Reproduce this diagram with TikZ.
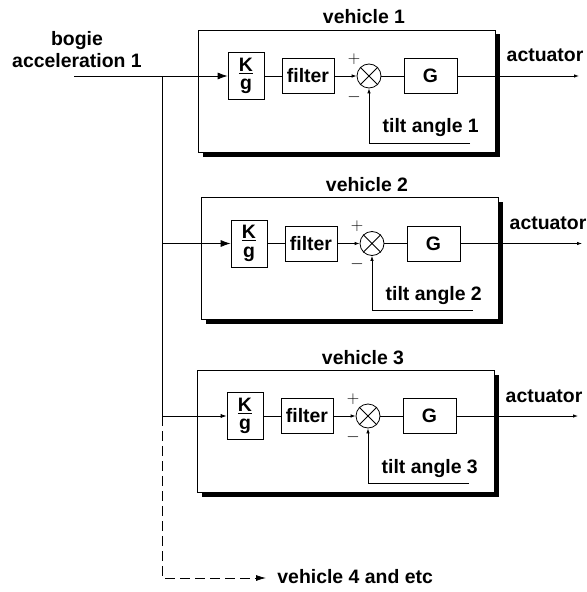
\documentclass[tikz,border=0pt]{standalone}
\usepackage{fontspec}
\setmainfont{Liberation Sans}
\usetikzlibrary{arrows.meta, positioning, shadows}

\begin{document}
\begin{tikzpicture}[x=1bp, y=-1bp, >={Latex[length=5bp,width=3.5bp]},
      line width=0.8bp,
      every node/.style={font=\fontsize{19.5}{22}\selectfont\bfseries},
      block/.style={draw, minimum height=35bp, inner sep=0pt},
      frame/.style={draw, fill=white, minimum width=297bp, minimum height=122bp,
        drop shadow={fill=black, opacity=1, shadow xshift=4.5bp, shadow yshift=-4.5bp}},
      sumnode/.style={circle, draw, minimum size=24bp, inner sep=0pt},
      sign/.style={font=\fontsize{17}{17}\selectfont, inner sep=0pt}]

      \useasboundingbox (0,0) rectangle (587,592);

      \node[align=center, anchor=south] (bogie) at (77,71) {bogie\\acceleration 1};
      \coordinate (in) at (74,76);

      \foreach \n/\x/\y/\ts in {1/198/76/2, 2/201/243.5/2, 3/197/416/1.2} {
          \node[frame] (veh\n) at (\x+148.5,\y+15) {};
          \node[anchor=base] (vname\n) at (\x+166,\y-52) {vehicle \n};
          \node[block, minimum width=36bp, minimum height=47bp, align=center,
            font=\fontsize{19.5}{18.5}\selectfont\bfseries] (kg\n) at (\x+48,\y) {\underline{K}\\g};
          \node[block, minimum width=52bp] (filt\n) at (\x+110,\y) {filter};
          \node[sumnode] (sum\n) at (\x+171,\y) {};
          \draw (sum\n.north west) -- (sum\n.south east) (sum\n.north east) -- (sum\n.south west);
          \node[block, minimum width=53bp] (g\n) at (\x+232.5,\y) {G};
          \node[sign] (plus\n) at (\x+156,\y-17) {$+$};
          \node[sign] (minus\n) at (\x+156,\y+21) {$-$};
          \node[anchor=base west] (act\n) at (\x+305,\y-14) {actuator};
          \node[anchor=base west] (tilt\n) at (\x+181,\y+57) {tilt angle \n};
          \coordinate (out\n) at (\x+381,\y);
          \coordinate (fb\n) at (\x+272,\y+67);
          \coordinate (tap\n) at (162,\y);

          \draw (kg\n) -- (filt\n);
          \draw[->] (filt\n) -- (sum\n);
          \draw (sum\n) -- (g\n);
          \draw[->] (g\n) -- (out\n);
          \draw[->] (fb\n) -| (sum\n);
          \draw[-{Latex[length=5bp,width=3.5bp,scale=\ts]}] (tap\n) -- (kg\n);
      }

      \node[anchor=west, inner sep=0pt] (etc) at (277,577) {vehicle 4 and etc};
      \coordinate (corner) at (162,578);

      \draw (in) -- (tap1) -- (tap3);
      \draw[dash pattern=on 10bp off 5bp, -{Latex[length=10bp,width=6bp]}, shorten >=11bp]
          (tap3) -- (corner) -- (corner -| etc.west);
\end{tikzpicture}
\end{document}
